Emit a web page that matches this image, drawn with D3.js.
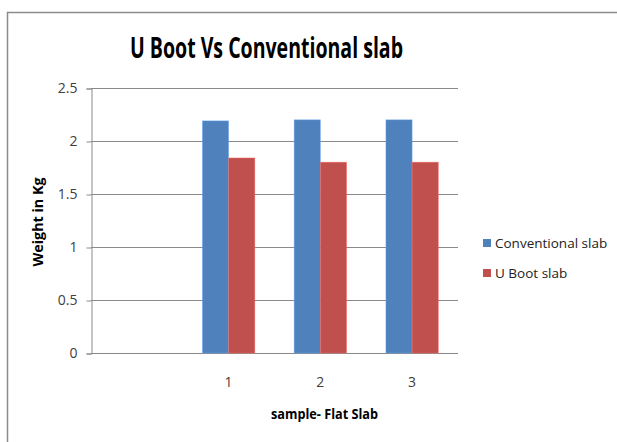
<!DOCTYPE html>
<html>
<head>
<meta charset="utf-8">
<script src="https://cdn.jsdelivr.net/npm/d3@7"></script>
<style>
  html, body { margin: 0; padding: 0; background: #fff; }
  svg { display: block; }
  text { font-family: "Open Sans", Arial, sans-serif; }
</style>
</head>
<body>
<svg id="chart" width="617" height="442"></svg>
<script>
// Sample slots on the category axis (first slot is left blank)
const categories = ["", "1", "2", "3"];
const seriesNames = ["Conventional slab", "U Boot slab"];
const conventional = [null, 2.19, 2.2, 2.2];
const uboot = [null, 1.84, 1.8, 1.8];
const yTicks = [0, 0.5, 1, 1.5, 2, 2.5];
const colors = ["#4F81BD", "#C0504D"];

const svg = d3.select("#chart");

// outer chart frame (top and left edges)
svg.append("path")
  .attr("d", "M7.5,442 V12.5 H617")
  .attr("fill", "none")
  .attr("stroke", "#8c8c8c")
  .attr("stroke-width", 1.5);

const plot = { left: 91, right: 458, top: 88, bottom: 353 };

const x = d3.scaleBand()
  .domain(categories.map((c, i) => i))
  .range([plot.left, plot.right])
  .paddingInner(0)
  .paddingOuter(0);

// two bars per slot, 150% gap split evenly around the pair
const inner = d3.scaleBand()
  .domain(d3.range(seriesNames.length))
  .range([0, x.bandwidth()])
  .paddingInner(0)
  .paddingOuter(0.75);

const y = d3.scaleLinear().domain([0, 2.5]).range([plot.bottom, plot.top]);

// horizontal gridlines
svg.append("g")
  .selectAll("line")
  .data(yTicks)
  .join("line")
  .attr("x1", plot.left)
  .attr("x2", plot.right)
  .attr("y1", d => Math.round(y(d)) + 0.5)
  .attr("y2", d => Math.round(y(d)) + 0.5)
  .attr("stroke", "#8a8a8a")
  .attr("stroke-width", 1);

// y axis
const yAxis = d3.axisLeft(y)
  .tickValues(yTicks)
  .tickFormat(d => String(d))
  .tickSize(5)
  .tickPadding(9);

const yg = svg.append("g")
  .attr("transform", `translate(${plot.left + 0.5},0.5)`)
  .call(yAxis);
yg.select(".domain").attr("stroke", "#8a8a8a");
yg.selectAll(".tick line").attr("stroke", "#8a8a8a");
yg.selectAll(".tick text")
  .attr("fill", "#404040")
  .style("font-size", "14px");

// bars
const series = [conventional, uboot];
const bars = svg.append("g");
series.forEach((vals, s) => {
  bars.selectAll(null)
    .data(vals.map((v, i) => ({ v, i })).filter(d => d.v != null))
    .join("rect")
    .attr("x", d => x(d.i) + inner(s))
    .attr("width", inner.bandwidth())
    .attr("y", d => y(d.v))
    .attr("height", d => y(0) - y(d.v))
    .attr("fill", colors[s])
    .attr("stroke", d3.color(colors[s]).brighter(0.8))
    .attr("stroke-opacity", 0.5)
    .attr("stroke-width", 0.8);
});

// category labels
svg.append("g")
  .selectAll("text")
  .data(categories.map((c, i) => ({ c, i })))
  .join("text")
  .attr("x", d => x(d.i) + x.bandwidth() / 2)
  .attr("y", 387)
  .attr("text-anchor", "middle")
  .attr("fill", "#404040")
  .style("font-size", "14px")
  .text(d => d.c);

// title
svg.append("text")
  .attr("x", 266.5)
  .attr("y", 58)
  .attr("text-anchor", "middle")
  .attr("textLength", 273)
  .attr("lengthAdjust", "spacingAndGlyphs")
  .style("font-size", "29px")
  .style("font-weight", "bold")
  .attr("fill", "#000")
  .text("U Boot Vs Conventional slab");

// axis titles
svg.append("text")
  .attr("transform", "translate(43,222) rotate(-90)")
  .attr("text-anchor", "middle")
  .attr("textLength", 89)
  .attr("lengthAdjust", "spacingAndGlyphs")
  .style("font-size", "14px")
  .style("font-weight", "bold")
  .attr("fill", "#000")
  .text("Weight in Kg");

svg.append("text")
  .attr("x", 324.5)
  .attr("y", 419)
  .attr("text-anchor", "middle")
  .attr("textLength", 107)
  .attr("lengthAdjust", "spacingAndGlyphs")
  .style("font-size", "14px")
  .style("font-weight", "bold")
  .attr("fill", "#000")
  .text("sample- Flat Slab");

// legend
const legend = svg.append("g");
seriesNames.forEach((name, s) => {
  const cy = 243 + s * 30;
  legend.append("rect")
    .attr("x", 483)
    .attr("y", cy - 4)
    .attr("width", 8)
    .attr("height", 8)
    .attr("fill", colors[s]);
  legend.append("text")
    .attr("x", 495)
    .attr("y", cy + 5)
    .style("font-size", "13.5px")
    .attr("fill", "#222")
    .text(name);
});
</script>
</body>
</html>
